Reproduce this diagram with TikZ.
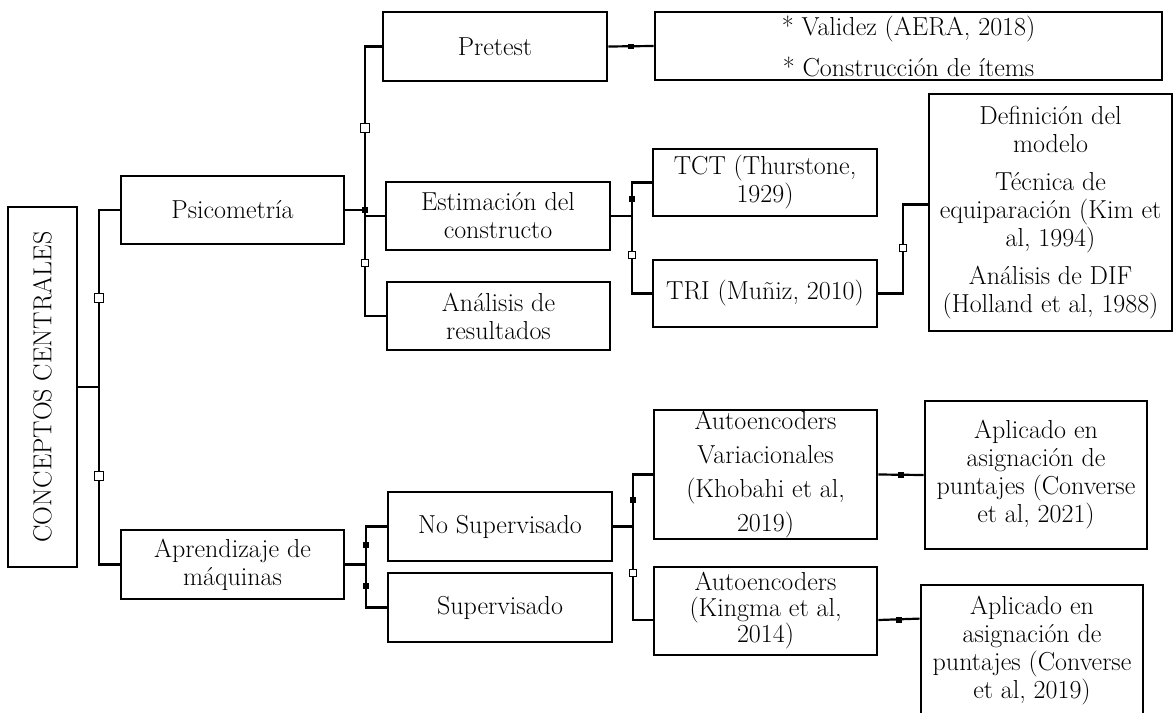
\documentclass[tikz,border=0pt]{standalone}
\usepackage{fontspec}
\begin{document}
\begin{tikzpicture}[x=1pt,y=-1pt,
  box/.style={draw, line width=2.8pt, align=center, inner sep=0pt, font=\fontsize{26}{28}\selectfont},
  conn/.style={line width=2.2pt},
  hsq/.style={draw, fill=white, line width=1.6pt, minimum size=#1, inner sep=0pt},
  hsq/.default=7pt,
  fdot/.style={fill=black, minimum size=5.5pt, inner sep=0pt}]
\useasboundingbox (0,0) rectangle (1174,712);
\clip (0,0) rectangle (1174,712);
\fill[white] (0,0) rectangle (1174,712);

% boxes
\node[box, minimum width=69pt, minimum height=360pt] (cc) at (42.5,387) {};
\node[rotate=90, font=\fontsize{26}{28}\selectfont] (cclabel) at (cc.center) {CONCEPTOS CENTRALES};

\node[box, minimum width=223pt, minimum height=68pt] (psico) at (232.5,210) {Psicometría};
\node[box, minimum width=223pt, minimum height=69pt] (apr) at (232.5,564.5) {Aprendizaje de\\máquinas};

\node[box, minimum width=224pt, minimum height=69pt] (pre) at (495,46.5) {Pretest};
\node[box, minimum width=224pt, minimum height=68pt] (est) at (498,216) {Estimación del\\constructo};
\node[box, minimum width=223pt, minimum height=68pt] (ana) at (498.5,316) {Análisis de\\resultados};

\node[box, minimum width=507pt, minimum height=68pt, font=\fontsize{26}{41}\selectfont] (val) at (908.5,46) {* Validez (AERA, 2018)\\{}* Construcción de ítems};

\node[box, minimum width=224pt, minimum height=67pt] (tct) at (765,182.5) {TCT (Thurstone,\\1929)};
\node[box, minimum width=224pt, minimum height=67pt] (tri) at (765,293.5) {TRI (Muñiz, 2010)};

\node[box, minimum width=243pt, minimum height=237pt] (def) at (1050.5,212.5) {Definición del\\modelo\\[10pt]Técnica de\\equiparación (Kim et\\al, 1994)\\[10pt]Análisis de DIF\\(Holland et al, 1988)};

\node[box, minimum width=224pt, minimum height=69pt] (nos) at (500,526.5) {No Supervisado};
\node[box, minimum width=224pt, minimum height=69pt] (sup) at (500,607.5) {Supervisado};

\node[box, minimum width=223pt, minimum height=129pt, font=\fontsize{26}{34}\selectfont] (ava) at (765.5,474.5) {Autoencoders\\Variacionales\\(Khobahi et al,\\2019)};
\node[box, minimum width=223pt, minimum height=88pt, font=\fontsize{26}{26}\selectfont] (aki) at (765.5,611) {Autoencoders\\(Kingma et al,\\2014)};

\node[box, minimum width=222pt, minimum height=148pt] (c21) at (1036,475) {Aplicado en\\asignación de\\puntajes (Converse\\et al, 2021)};
\node[box, minimum width=222pt, minimum height=132pt] (c19) at (1032,651) {Aplicado en\\asignación de\\puntajes (Converse\\et al, 2019)};

% buses
\coordinate (b1) at (99,0);
\coordinate (b2) at (365,0);
\coordinate (b3) at (632,0);
\coordinate (b4) at (903,0);
\coordinate (b5) at (366,0);
\coordinate (b6) at (633,0);

\draw[conn] (cc.east) -- (cc.east -| b1);
\draw[conn] (psico.west) -- (psico.west -| b1) -- (apr.west -| b1) -- (apr.west);

\draw[conn] (psico.east) -- (psico.east -| b2);
\draw[conn] (pre.west) -- (pre.west -| b2) -- (ana.west -| b2) -- (ana.west);
\draw[conn] (est.west) -- (est.west -| b2);
\draw[conn] (pre.east) -- (val.west);

\draw[conn] (est.east) -- (est.east -| b3);
\draw[conn] (tct.west) -- (tct.west -| b3) -- (tri.west -| b3) -- (tri.west);

\coordinate (defin) at ([yshift=8pt]def.west);
\draw[conn] (tri.east) -- (tri.east -| b4) -- (defin -| b4) -- (defin);

\draw[conn] (apr.east) -- (apr.east -| b5);
\draw[conn] (nos.west) -- (nos.west -| b5) -- (sup.west -| b5) -- (sup.west);

\draw[conn] (nos.east) -- (nos.east -| b6);
\coordinate (akiin) at ([yshift=-9pt]aki.west);
\draw[conn] (ava.west) -- (ava.west -| b6) -- (akiin -| b6) -- (akiin);

\draw[conn] (ava.east) -- (c21.west);
\coordinate (akiout) at ([yshift=-9pt]aki.east);
\coordinate (c19in) at ([yshift=-35pt]c19.north west);
\draw[conn] (akiout) -- (c19in);

% markers
\node[hsq=9pt] (m1) at (99,298) {};
\node[hsq=9pt] (m2) at (99,476) {};
\node[hsq=9pt] (m3) at (365,128) {};
\node[hsq] (m4) at (365,263) {};
\node[hsq] (m5) at (632,255) {};
\node[hsq] (m6) at (903,248) {};
\node[hsq] (m7) at (633,573) {};
\node[fdot] (d1) at (365,210) {};
\node[fdot] (d2) at (632,199) {};
\node[fdot] (d3) at (631,46.5) {};
\node[fdot] (d4) at (366,545) {};
\node[fdot] (d5) at (366,586) {};
\node[fdot] (d6) at (633,500) {};
\node[fdot] (d7) at (901,475) {};
\node[fdot] (d8) at (899,620) {};
\end{tikzpicture}
\end{document}
